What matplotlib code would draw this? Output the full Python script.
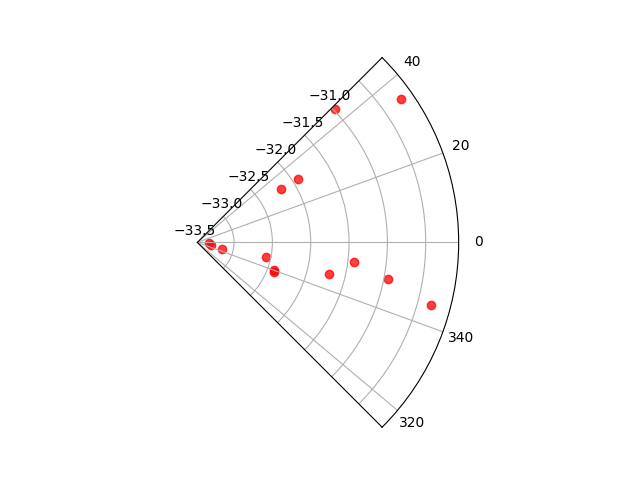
import matplotlib.pyplot as plt
import matplotlib.transforms as mtransforms
import numpy as np

# angles in degrees, radii (negative values)
theta_deg = [35.2, 44.0, 31.9, 32.7, -1.5, -12.5, -14.6, -12.1, -20.7, -20.0,
             -13.4, -7.0, -10.8, -14.9]
radius = [-30.725, -31.479, -32.426, -32.679, -33.824, -33.794, -33.648,
          -33.060, -32.903, -32.92, -32.207, -31.926, -31.441, -30.822]

theta_ticks = [-40, -20, 0, 20, 40]
theta_labels = ['320', '340', '0', '20', '40']
r_ticks = [-33.5, -33.0, -32.5, -32.0, -31.5, -31.0]
r_labels = ['\u221233.5', '\u221233.0', '\u221232.5', '\u221232.0', '\u221231.5', '\u221231.0']

fig, ax = plt.subplots(subplot_kw={'projection': 'polar'}, figsize=(6.4, 4.8), dpi=100)

ax.scatter(np.deg2rad(theta_deg), radius, c='red', alpha=0.75)

ax.set_thetamin(-45)
ax.set_thetamax(45)
ax.set_thetagrids(theta_ticks, theta_labels)
ax.set_yticks(r_ticks)
ax.yaxis.set_tick_params(label1On=False, label2On=False)
ax.grid(True)

# radial labels sit just below-left of where each circle meets the upper edge
trans = mtransforms.offset_copy(ax.transData, fig=fig, x=-8, y=-8, units='dots')
for r, lab in zip(r_ticks, r_labels):
    ax.text(np.deg2rad(45), r, lab, transform=trans, ha='right', va='top',
            fontsize=10, clip_on=False)

plt.savefig('out.png')
